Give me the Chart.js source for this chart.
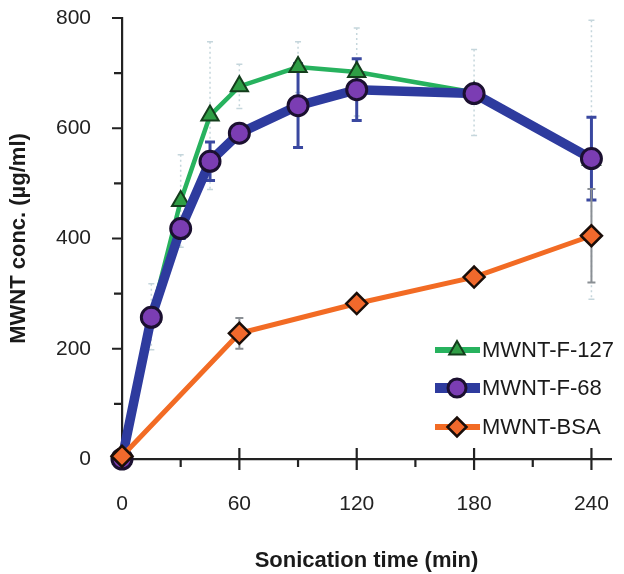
<!DOCTYPE html>
<html><head><meta charset="utf-8">
<script src="https://cdn.jsdelivr.net/npm/chart.js@4/dist/chart.umd.min.js"></script>
<style>html,body{margin:0;padding:0;background:#fff}#wrap{width:624px;height:574px}</style>
</head><body><div id="wrap"><canvas id="c" width="624" height="574"></canvas></div>
<script>
// ---- data ----
const timesF = [0, 15, 30, 45, 60, 90, 120, 180, 240];
const timesBSA = [0, 60, 120, 180, 240];
const f127 = [0, 258, 468, 623, 676, 711, 702, 665, 543];
const f127Err = [0, 60, 84, 134, 40, 46, 80, 78, 253];
const f68 = [0, 257, 418, 540, 591, 641, 670, 663, 545];
const f68Err = [0, 10, 18, 35, 15, 76, 56, 10, 75];
const bsa = [5, 228, 282, 330, 405];
const bsaErr = [0, 28, 8, 8, 85];
const seriesLabels = ['MWNT-F-127', 'MWNT-F-68', 'MWNT-BSA'];
const xMajor = [0, 60, 120, 180, 240];
const xMinor = [30, 90, 150, 210];
const yMajor = [0, 200, 400, 600, 800];
const yMinor = [100, 300, 500, 700];
const xTitle = 'Sonication time (min)';
const yTitle = 'MWNT conc. (µg/ml)';

const FONT = "'Liberation Sans', Arial, Helvetica, sans-serif";

const errorBars = {
  id: 'errorBars',
  beforeDatasetsDraw(chart) {
    const ctx = chart.ctx, xs = chart.scales.x, ys = chart.scales.y;
    [0, 1, 2].forEach(i => {
      const ds = chart.data.datasets[i];
      const st = ds.errStyle;
      ctx.save();
      ctx.strokeStyle = st.color; ctx.lineWidth = st.width; ctx.setLineDash(st.dash || []);
      ds.data.forEach((p, j) => {
        const e = ds.errors[j]; if (!e) return;
        const px = xs.getPixelForValue(p.x);
        const t = ys.getPixelForValue(p.y + e), b = ys.getPixelForValue(p.y - e);
        ctx.beginPath(); ctx.moveTo(px, t); ctx.lineTo(px, b); ctx.stroke();
        ctx.setLineDash([]);
        ctx.beginPath();
        ctx.moveTo(px - st.cap, t); ctx.lineTo(px + st.cap, t);
        ctx.moveTo(px - st.cap, b); ctx.lineTo(px + st.cap, b); ctx.stroke();
        ctx.setLineDash(st.dash || []);
      });
      ctx.restore();
    });
  }
};

const tickMarks = {
  id: 'tickMarks',
  beforeDatasetsDraw(chart) {
    const ctx = chart.ctx, xs = chart.scales.x, ys = chart.scales.y;
    const ax = chart.chartArea.left, ay = chart.chartArea.bottom;
    ctx.save(); ctx.strokeStyle = '#222'; ctx.lineWidth = 2.2;
    ctx.beginPath();
    yMajor.forEach(v => { const y = ys.getPixelForValue(v); ctx.moveTo(ax - 10, y); ctx.lineTo(ax, y); });
    yMinor.forEach(v => { const y = ys.getPixelForValue(v); ctx.moveTo(ax - 8, y); ctx.lineTo(ax, y); });
    xMajor.forEach(v => { const x = xs.getPixelForValue(v); ctx.moveTo(x, ay - 11); ctx.lineTo(x, ay + 11); });
    xMinor.forEach(v => { const x = xs.getPixelForValue(v); ctx.moveTo(x, ay); ctx.lineTo(x, ay + 8); });
    ctx.stroke(); ctx.restore();
  }
};

const customLegend = {
  id: 'customLegend',
  afterDraw(chart) {
    const ctx = chart.ctx;
    const rows = [350, 388, 427];
    [0, 1, 2].forEach((i, k) => {
      const ds = chart.data.datasets[i];
      const y = rows[k];
      ctx.save();
      ctx.strokeStyle = ds.borderColor; ctx.lineWidth = ds.legendLineWidth;
      ctx.beginPath(); ctx.moveTo(435, y); ctx.lineTo(480, y); ctx.stroke();
      ctx.fillStyle = ds.pointBackgroundColor; ctx.strokeStyle = ds.pointBorderColor;
      ctx.lineWidth = ds.pointBorderWidth;
      Chart.helpers.drawPoint(ctx, { pointStyle: ds.pointStyle, radius: ds.pointRadius - 1, borderWidth: ds.pointBorderWidth, rotation: 0 }, 457, y);
      ctx.fillStyle = '#1a1a1a'; ctx.font = '22px ' + FONT;
      ctx.textBaseline = 'middle'; ctx.textAlign = 'left';
      ctx.fillText(ds.label, 482, y + 1);
      ctx.restore();
    });
  }
};

function fixPad(s) { s.paddingTop = 0; s.paddingBottom = 0; s.paddingLeft = 0; s.paddingRight = 0; }

new Chart(document.getElementById('c'), {
  type: 'line',
  data: {
    datasets: [
      {
        label: seriesLabels[0],
        data: timesF.map((t, i) => ({ x: t, y: f127[i] })),
        errors: f127Err,
        errStyle: { color: '#c5d6dc', width: 1.5, cap: 3, dash: [2, 3] },
        borderColor: '#27b25e', borderWidth: 4.5, legendLineWidth: 6,
        pointStyle: 'triangle', pointRadius: 10, pointBackgroundColor: '#2f9e45',
        pointBorderColor: '#143d1c', pointBorderWidth: 2,
        tension: 0, clip: false, order: 3
      },
      {
        label: seriesLabels[1],
        data: timesF.map((t, i) => ({ x: t, y: f68[i] })),
        errors: f68Err,
        errStyle: { color: '#3a48a0', width: 3, cap: 5 },
        borderColor: '#2e3b9e', borderWidth: 9.5, legendLineWidth: 10,
        pointStyle: 'circle', pointRadius: 10, pointBackgroundColor: '#7b3db3',
        pointBorderColor: '#1b1030', pointBorderWidth: 3,
        tension: 0, clip: false, order: 2
      },
      {
        label: seriesLabels[2],
        data: timesBSA.map((t, i) => ({ x: t, y: bsa[i] })),
        errors: bsaErr,
        errStyle: { color: '#8a8f94', width: 2, cap: 4 },
        borderColor: '#f26b24', borderWidth: 5, legendLineWidth: 6,
        pointStyle: 'rectRot', pointRadius: 10.5, pointBackgroundColor: '#f1692c',
        pointBorderColor: '#1a0d08', pointBorderWidth: 2.5,
        tension: 0, clip: false, order: 1
      }
    ]
  },
  options: {
    responsive: false, animation: false, devicePixelRatio: 1,
    layout: { padding: { top: 18, right: 9, left: 0, bottom: 0 } },
    plugins: { legend: { display: false }, tooltip: { enabled: false } },
    scales: {
      x: {
        type: 'linear', min: 0, max: 250,
        afterBuildTicks: s => { s.ticks = xMajor.map(v => ({ value: v })); },
        afterFit: s => { s.height = 115; fixPad(s); },
        grid: { display: false, drawTicks: false },
        border: { display: true, color: '#222', width: 2.2 },
        ticks: { color: '#222', font: { family: FONT, size: 21 }, padding: 33, maxRotation: 0, autoSkip: false },
        title: { display: true, text: xTitle, color: '#1a1a1a', font: { family: FONT, size: 22, weight: 'bold' }, padding: { top: 0, bottom: 0 } }
      },
      y: {
        type: 'linear', min: 0, max: 800,
        afterBuildTicks: s => { s.ticks = yMajor.map(v => ({ value: v })); },
        afterFit: s => { s.width = 122; fixPad(s); },
        grid: { display: false, drawTicks: false },
        border: { display: true, color: '#222', width: 2.2 },
        ticks: { color: '#222', font: { family: FONT, size: 21 }, padding: 31 },
        title: { display: true, text: yTitle, color: '#1a1a1a', font: { family: FONT, size: 22, weight: 'bold' }, padding: { top: 6, bottom: 0 } }
      }
    }
  },
  plugins: [errorBars, tickMarks, customLegend]
});
</script></body></html>
